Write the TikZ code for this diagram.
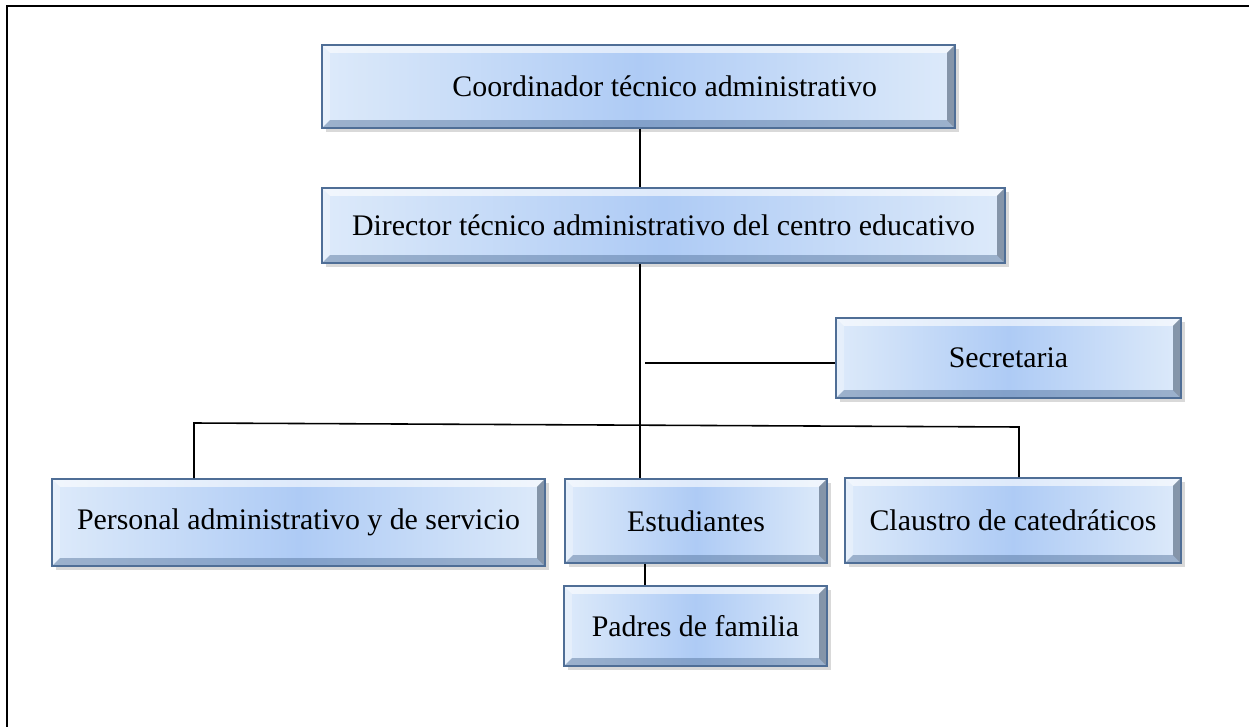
\documentclass[tikz,border=0pt]{standalone}
\usepackage{fontspec}
\setmainfont{Liberation Serif}
\usetikzlibrary{shadows}

\definecolor{boxedge}{HTML}{4F6E96}
\definecolor{boxmid}{HTML}{AECBF5}
\definecolor{boxside}{HTML}{DDEAFA}

\tikzset{
  orgbox/.style={draw=boxedge, line width=1pt, rectangle,
    left color=boxside, right color=boxside, middle color=boxmid,
    drop shadow={opacity=0.3, shadow xshift=2.5pt, shadow yshift=-2.5pt},
    font=\fontsize{17}{20}\selectfont, inner sep=0pt,
    path picture={
      \def\bev{4.5pt}
      \coordinate (nw) at (path picture bounding box.north west);
      \coordinate (ne) at (path picture bounding box.north east);
      \coordinate (sw) at (path picture bounding box.south west);
      \coordinate (se) at (path picture bounding box.south east);
      \fill[white, opacity=0.6] (nw) -- (ne) -- ++(-\bev,-\bev) -| ([shift={(\bev,-\bev)}]nw) -- cycle;
      \fill[white, opacity=0.3] (nw) -- (sw) -- ++(\bev,\bev) |- ([shift={(\bev,-\bev)}]nw) -- cycle;
      \fill[boxedge, opacity=0.45] (sw) -- (se) -- ++(-\bev,\bev) -| ([shift={(\bev,\bev)}]sw) -- cycle;
      \fill[boxedge!60!black, opacity=0.5] (ne) -- (se) -- ++(-\bev,\bev) |- ([shift={(-\bev,-\bev)}]ne) -- cycle;
    }},
  link/.style={line width=0.9pt}
}

\begin{document}
\begin{tikzpicture}[x=0.02cm, y=-0.02cm]
  \useasboundingbox (0,0) rectangle (1249,727);
  % frame (runs off the right and bottom)
  \draw[line width=1.2pt] (1260,6) -- (7,6) -- (7,740);

  % boxes
  \node[orgbox, minimum width=12.66cm, minimum height=1.66cm] (coord) at (638.5,86.5) {\hspace*{1.05cm}Coordinador técnico administrativo};
  \node[orgbox, minimum width=13.66cm, minimum height=1.5cm] (dir) at (663.5,225.5) {Director técnico administrativo del centro educativo};
  \node[orgbox, minimum width=6.9cm, minimum height=1.6cm] (sec) at (1008.5,358) {Secretaria};
  \node[orgbox, minimum width=9.86cm, minimum height=1.74cm] (pers) at (298.5,522.5) {Personal administrativo y de servicio};
  \node[orgbox, minimum width=5.24cm, minimum height=1.68cm] (est) at (696,521) {Estudiantes};
  \node[orgbox, minimum width=6.72cm, minimum height=1.7cm] (clau) at (1013,520.5) {Claustro de catedráticos};
  \node[orgbox, minimum width=5.26cm, minimum height=1.6cm] (pad) at (695.5,626) {Padres de familia};

  % connectors
  \coordinate (trunk) at (640,0);
  \coordinate (secjoin) at (645,363);
  \coordinate (busL) at (194,423);
  \coordinate (busR) at (1019,427);
  \coordinate (padjoin) at (645,0);
  \draw[link] (trunk |- coord.south) -- (trunk |- dir.north);
  \draw[link] (trunk |- dir.south) -- (trunk |- est.north);
  \draw[link] (secjoin) -- (secjoin -| sec.west);
  \draw[link] (busL |- pers.north) -- (busL) -- (busR) -- (busR |- clau.north);
  \draw[link] (padjoin |- est.south) -- (padjoin |- pad.north);
\end{tikzpicture}
\end{document}
